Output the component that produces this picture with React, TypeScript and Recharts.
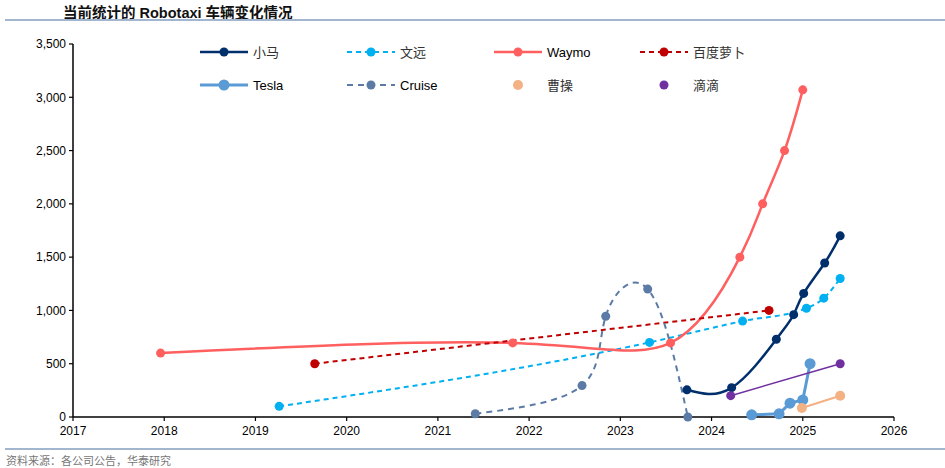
import React from "react";
import { LineChart, Line, XAxis, YAxis } from "recharts";

// values: x = year (fractional), y = vehicles
const pony = [
  { x: 2023.73, y: 255 },
  { x: 2024.22, y: 275 },
  { x: 2024.71, y: 730 },
  { x: 2024.9, y: 960 },
  { x: 2025.01, y: 1160 },
  { x: 2025.24, y: 1445 },
  { x: 2025.41, y: 1700 },
];
const weride = [
  { x: 2019.26, y: 100 },
  { x: 2023.32, y: 700 },
  { x: 2024.34, y: 900 },
  { x: 2025.04, y: 1020 },
  { x: 2025.23, y: 1115 },
  { x: 2025.41, y: 1300 },
];
const waymo = [
  { x: 2017.96, y: 600 },
  { x: 2021.82, y: 695 },
  { x: 2023.55, y: 695 },
  { x: 2024.31, y: 1500 },
  { x: 2024.56, y: 2000 },
  { x: 2024.8, y: 2500 },
  { x: 2025.0, y: 3070 },
];
const baidu = [
  { x: 2019.65, y: 500 },
  { x: 2024.63, y: 1000 },
];
const tesla = [
  { x: 2024.44, y: 20 },
  { x: 2024.74, y: 30 },
  { x: 2024.86, y: 130 },
  { x: 2025.0, y: 160 },
  { x: 2025.08, y: 500 },
];
const cruise = [
  { x: 2021.41, y: 30 },
  { x: 2022.58, y: 295 },
  { x: 2022.84, y: 945 },
  { x: 2023.3, y: 1200 },
  { x: 2023.74, y: 0 },
];
const caocao = [
  { x: 2024.99, y: 85 },
  { x: 2025.41, y: 200 },
];
const didi = [
  { x: 2024.21, y: 200 },
  { x: 2025.41, y: 500 },
];

const yearTicks = [2017, 2018, 2019, 2020, 2021, 2022, 2023, 2024, 2025, 2026];
const valueTicks = [0, 500, 1000, 1500, 2000, 2500, 3000, 3500];

const series = [
  { name: "小马", data: pony, color: "#002f6c", dash: undefined, width: 2.5, r: 4.5, type: "natural", line: true },
  { name: "文远", data: weride, color: "#00b0f0", dash: "5 4", width: 2, r: 4.5, type: "monotone", line: true },
  { name: "Waymo", data: waymo, color: "#ff5f5f", dash: undefined, width: 2.5, r: 4.5, type: "natural", line: true },
  { name: "百度萝卜", data: baidu, color: "#c00000", dash: "5 4", width: 2, r: 4.5, type: "linear", line: true },
  { name: "Tesla", data: tesla, color: "#5b9bd5", dash: undefined, width: 3, r: 5.5, type: "linear", line: true },
  { name: "Cruise", data: cruise, color: "#5b7ba6", dash: "6 5", width: 2, r: 4.5, type: "natural", line: true },
  { name: "曹操", data: caocao, color: "#f4b183", dash: undefined, width: 2, r: 5, type: "linear", line: false },
  { name: "滴滴", data: didi, color: "#7030a0", dash: undefined, width: 1.5, r: 4.5, type: "linear", line: false },
];

const font = '"Liberation Sans", Arial, "Noto Sans CJK SC", sans-serif';

const LegendBox = () => {
  const cols = [200, 347, 494, 640];
  const rows = [52, 85];
  return (
    <svg width={945} height={110} style={{ position: "absolute", left: 0, top: 0 }}>
      {series.map((s, i) => {
        const x0 = cols[i % 4];
        const y = rows[Math.floor(i / 4)];
        return (
          <g key={s.name}>
            {s.line && (
              <line x1={x0} x2={x0 + 48} y1={y} y2={y} stroke={s.color} strokeWidth={s.width} strokeDasharray={s.dash} />
            )}
            <circle cx={x0 + 24} cy={y} r={s.r} fill={s.color} />
            <text x={x0 + 53} y={y} dy="0.35em" fontSize={13} fill={/[a-z]/i.test(s.name) ? "#000" : "#333"} fontFamily={font}>
              {s.name}
            </text>
          </g>
        );
      })}
    </svg>
  );
};

export default function App() {
  return (
    <div style={{ position: "absolute", left: 0, top: 0, width: 945, height: 468, background: "#fff", fontFamily: font }}>
      <div style={{ position: "absolute", left: 63, top: 1, fontSize: 14.5, fontWeight: 700, color: "#111", whiteSpace: "nowrap" }}>
        当前统计的 Robotaxi 车辆变化情况
      </div>
      <div style={{ position: "absolute", left: 5, right: 0, top: 19, height: 1.5, background: "#a3b6cf" }} />
      <LineChart
        width={945}
        height={468}
        margin={{ top: 44, right: 51, bottom: 21, left: 0 }}
        style={{ position: "absolute", left: 0, top: 0 }}
      >
        <XAxis
          type="number"
          dataKey="x"
          domain={[2017, 2026]}
          ticks={yearTicks}
          allowDataOverflow
          height={30}
          tickSize={4}
          tickMargin={5}
          axisLine={{ stroke: "#000", strokeWidth: 1.5 }}
          tickLine={{ stroke: "#000", strokeWidth: 1.2 }}
          tick={{ fill: "#000", fontSize: 12, fontFamily: font }}
        />
        <YAxis
          type="number"
          domain={[0, 3500]}
          ticks={valueTicks}
          width={73}
          tickSize={4}
          tickMargin={3}
          tickFormatter={(v: number) => v.toLocaleString("en-US")}
          axisLine={{ stroke: "#000", strokeWidth: 1.5 }}
          tickLine={{ stroke: "#000", strokeWidth: 1.2 }}
          tick={{ fill: "#000", fontSize: 12, fontFamily: font }}
        />
        {series.map((s) => (
          <Line
            key={s.name}
            name={s.name}
            data={s.data}
            dataKey="y"
            type={s.type as any}
            stroke={s.color}
            strokeWidth={s.width}
            strokeDasharray={s.dash}
            dot={{ r: s.r, fill: s.color, stroke: s.color, strokeWidth: 0 }}
            activeDot={false}
            isAnimationActive={false}
          />
        ))}
      </LineChart>
      <LegendBox />
      <div style={{ position: "absolute", left: 5, right: 0, top: 448, height: 1.5, background: "#a3b6cf" }} />
      <div style={{ position: "absolute", left: 6, top: 452, fontSize: 11, color: "#777", whiteSpace: "nowrap" }}>
        资料来源：各公司公告，华泰研究
      </div>
    </div>
  );
}
